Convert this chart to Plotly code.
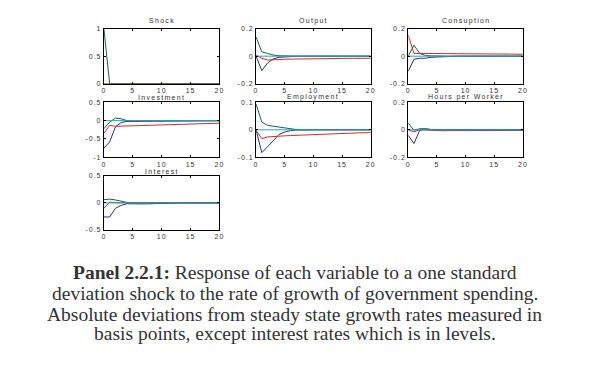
import plotly.graph_objects as go

PAGE_W, PAGE_H = 601, 389
OFF = 8  # default page body margin
W, H = PAGE_W - OFF, PAGE_H - OFF
periods = list(range(21))

def pad(vals, n=21):
    return vals + [0.0] * (n - len(vals))

# ---------------- data ----------------
panel_titles = ["Shock", "Output", "Consuption", "Investment", "Employment", "Hours per Worker", "Interest"]

shock_green = pad([1.0, 0.0])
shock_red = pad([0.0])

output_green = pad([0.14, 0.032, 0.02, 0.008, 0.003, 0.001])
output_navy = pad([0.0, -0.105, -0.05, -0.02, -0.008, -0.004, -0.002, -0.001])
output_red = [0.008, -0.015, -0.028, -0.028, -0.025, -0.022, -0.021, -0.02, -0.02, -0.019, -0.019,
              -0.018, -0.018, -0.017, -0.017, -0.017, -0.016, -0.016, -0.016, -0.015, -0.015]

cons_green = pad([0.0, 0.08, 0.02, 0.005, 0.002])
cons_navy = pad([-0.11, -0.023, -0.015, -0.015, -0.008, -0.005, -0.003, -0.002, -0.001])
cons_red = [0.152, 0.02, 0.02, 0.02, 0.02, 0.019, 0.019, 0.018, 0.018, 0.018, 0.017,
            0.017, 0.017, 0.016, 0.016, 0.016, 0.015, 0.015, 0.015, 0.014, 0.014]

inv_green = pad([-0.22, -0.04, 0.07, 0.05, 0.0, -0.01, -0.005])
inv_navy = [-0.75, -0.58, -0.17, -0.05, -0.02, -0.02, -0.018, -0.016, -0.015, -0.013, -0.012,
            -0.011, -0.01, -0.009, -0.008, -0.007, -0.006, -0.005, -0.005, -0.004, -0.004]
inv_red = [-0.35, -0.13, -0.155, -0.15, -0.145, -0.14, -0.137, -0.134, -0.13, -0.127, -0.123,
           -0.118, -0.113, -0.108, -0.102, -0.097, -0.091, -0.086, -0.081, -0.076, -0.07]

emp_green = pad([0.094, 0.028, 0.016, 0.012, 0.01, 0.007, 0.003, 0.001])
emp_navy = pad([0.0, -0.083, -0.062, -0.038, -0.017, -0.008, -0.003, -0.001])
emp_red = [-0.002, -0.032, -0.026, -0.024, -0.023, -0.022, -0.021, -0.02, -0.019, -0.018, -0.017,
           -0.016, -0.015, -0.015, -0.014, -0.013, -0.013, -0.012, -0.011, -0.011, -0.01]

hours_green = pad([0.05, -0.004, 0.008, 0.008, 0.002])
hours_navy = pad([-0.04, -0.1, -0.004, 0.005, 0.002])
hours_red = [0.0, -0.015, 0.0, -0.002, -0.006, -0.008, -0.007, -0.006, -0.006, -0.005, -0.005,
             -0.005, -0.005, -0.005, -0.005, -0.005, -0.005, -0.005, -0.005, -0.005, -0.005]

int_green = pad([0.06, 0.07, 0.055, 0.03, 0.01, 0.003])
int_navy = pad([-0.26, -0.26, -0.1, -0.045, -0.015, -0.02, -0.02, -0.018, -0.015, -0.01, -0.005,
                -0.003, -0.002, -0.001])
int_red = pad([-0.1, 0.015, 0.005])

zero_line = pad([])

x_ticks = [0, 5, 10, 15, 20]
x_tick_labels = ["0", "5", "10", "15", "20"]
y_ticks = [
    [0, 0.5, 1],
    [-0.2, 0, 0.2],
    [-0.2, 0, 0.2],
    [-1, -0.5, 0, 0.5],
    [-0.1, 0, 0.1],
    [-0.2, 0, 0.2],
    [-0.5, 0, 0.5],
]
y_tick_labels = [
    ["0", "0.5", "1"],
    ["-0.2", "0", "0.2"],
    ["-0.2", "0", "0.2"],
    ["-1", "-0.5", "0", "0.5"],
    ["-0.1", "0", "0.1"],
    ["-0.2", "0", "0.2"],
    ["-0.5", "0", "0.5"],
]
y_ranges = [[0, 1], [-0.2, 0.2], [-0.2, 0.2], [-1, 0.5], [-0.1, 0.1], [-0.2, 0.2], [-0.5, 0.5]]

caption_lines = [
    "<b>Panel 2.2.1:</b> Response of each variable to a one standard",
    "deviation shock to the rate of growth of government spending.",
    "Absolute deviations from steady state growth rates measured in",
    "basis points, except interest rates which is in levels.",
]

GREEN = "#1f5e4c"
NAVY = "#2b2f72"
RED = "#d42a2a"
CYAN = "#21a9b6"

panel_series = [
    [(shock_red, RED), (shock_green, GREEN)],
    [(output_navy, NAVY), (output_red, RED), (output_green, GREEN), (zero_line, CYAN)],
    [(cons_navy, NAVY), (cons_red, RED), (cons_green, GREEN), (zero_line, CYAN)],
    [(inv_navy, NAVY), (inv_red, RED), (inv_green, GREEN), (zero_line, CYAN)],
    [(emp_navy, NAVY), (emp_red, RED), (emp_green, GREEN), (zero_line, CYAN)],
    [(hours_navy, NAVY), (hours_red, RED), (hours_green, GREEN), (zero_line, CYAN)],
    [(int_navy, NAVY), (int_red, RED), (int_green, GREEN), (zero_line, CYAN)],
]

# ---------------- layout (page pixel boxes) ----------------
col_px = [(103, 220), (257, 373), (411, 527)]
row_px = [(25, 81), (100, 156), (175, 230)]
cells = [(0, 0), (0, 1), (0, 2), (1, 0), (1, 1), (1, 2), (2, 0)]

def fx(px):
    return (px - OFF) / W

def fy(py):
    return 1 - (py - OFF) / H

def spaced(t, ls=1):
    return f'<span style="letter-spacing:{ls}px">{t}</span>'

fig = go.Figure()
layout = dict(
    width=W, height=H, margin=dict(l=0, r=0, t=0, b=0),
    paper_bgcolor="white", plot_bgcolor="white", showlegend=False,
    font=dict(family="Liberation Sans, Arial, sans-serif", size=7, color="#333333"),
)
annotations = []

for i, (r, c) in enumerate(cells):
    xn = "x" if i == 0 else f"x{i+1}"
    yn = "y" if i == 0 else f"y{i+1}"
    xl = "xaxis" if i == 0 else f"xaxis{i+1}"
    yl = "yaxis" if i == 0 else f"yaxis{i+1}"
    x0, x1 = col_px[c]
    y0, y1 = row_px[r]
    axis_common = dict(
        showline=True, linecolor="black", linewidth=1, mirror="ticks",
        ticks="inside", ticklen=2, tickcolor="black", showgrid=False, zeroline=False,
        tickfont=dict(size=7, color="#333333"),
    )
    layout[xl] = dict(domain=[fx(x0), fx(x1)], anchor=yn, range=[0, 20],
                      tickvals=x_ticks, ticktext=[spaced(t) for t in x_tick_labels],
                      ticklabelstandoff=0, **axis_common)
    layout[yl] = dict(domain=[fy(y1), fy(y0)], anchor=xn, range=y_ranges[i],
                      tickvals=y_ticks[i], ticktext=[spaced(t) for t in y_tick_labels[i]],
                      **axis_common)
    for vals, col in panel_series[i]:
        fig.add_trace(go.Scatter(x=periods, y=vals, mode="lines", xaxis=xn, yaxis=yn,
                                 line=dict(color=col, width=1), hoverinfo="skip"))
    title_gap = 8 if r == 0 else 5
    annotations.append(dict(
        text=spaced(panel_titles[i], 1.3), xref="paper", yref="paper",
        x=fx((x0 + x1) / 2), y=fy(y0 - title_gap), xanchor="center", yanchor="middle",
        showarrow=False, font=dict(size=7, color="#333333")))

cap_y = [273, 295, 316, 336]
for line, yp in zip(caption_lines, cap_y):
    annotations.append(dict(
        text=line, xref="paper", yref="paper", x=fx(296), y=fy(yp),
        xanchor="center", yanchor="middle", showarrow=False,
        font=dict(family="Liberation Serif, DejaVu Serif, serif", size=19.5, color="#333333")))

layout["annotations"] = annotations
fig.update_layout(**layout)
fig.write_html("out.html")
